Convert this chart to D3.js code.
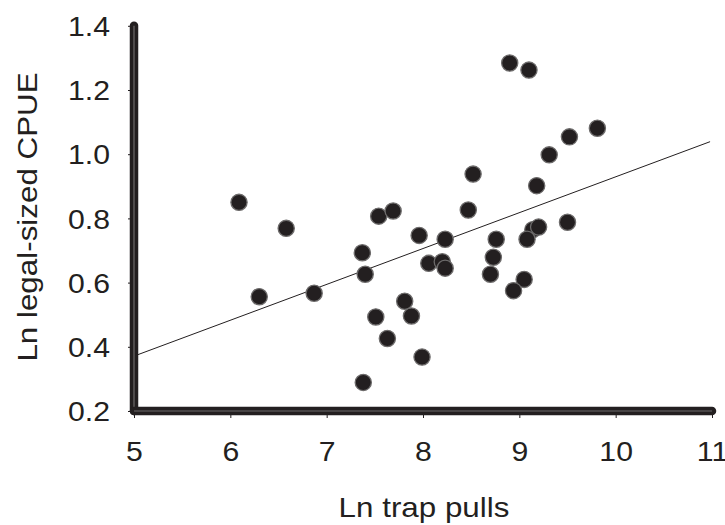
<!DOCTYPE html>
<html>
<head>
<meta charset="utf-8">
<script src="https://cdn.jsdelivr.net/npm/d3@7"></script>
<style>
  body { margin: 0; background: #fff; }
  text { font-family: "Liberation Sans", Arial, sans-serif; fill: #231f20; }
</style>
</head>
<body>
<div id="chart"></div>
<script>
// values
const xTicks = [5, 6, 7, 8, 9, 10, 11];
const yTicks = [0.2, 0.4, 0.6, 0.8, 1.0, 1.2, 1.4];

const trapPulls = [6.09, 6.58, 7.54, 7.69, 7.96, 7.37, 7.40, 6.30, 6.87, 7.81, 7.51, 7.88,
  7.63, 7.99, 7.38, 8.90, 9.10, 9.81, 9.52, 9.31, 8.52, 9.18, 8.47, 9.50, 9.14, 9.20,
  8.23, 8.76, 9.08, 8.06, 8.20, 8.23, 8.73, 8.70, 9.05, 8.94];
const cpue = [0.850, 0.769, 0.807, 0.823, 0.747, 0.693, 0.626, 0.556, 0.567, 0.542, 0.493, 0.496,
  0.426, 0.368, 0.289, 1.284, 1.262, 1.081, 1.054, 0.998, 0.938, 0.902, 0.826, 0.788, 0.765, 0.773,
  0.735, 0.735, 0.735, 0.660, 0.665, 0.645, 0.679, 0.626, 0.610, 0.575];

// fitted line end points
const trendX = [5, 10.98];
const trendY = [0.371, 1.039];

const width = 725;
const height = 525;
const plotLeft = 134, plotRight = 712, plotTop = 25.8, plotBottom = 411;
const ink = '#231f20';
const stretch = 1.12;   // the type in the original is a little wide
const tickFont = 27;
const titleFont = 28;

var svg = d3.select('#chart').append('svg')
  .attr('width', width)
  .attr('height', height);

var x = d3.scaleLinear().domain([5, 11]).range([plotLeft, plotRight]);
var y = d3.scaleLinear().domain([0.2, 1.4]).range([plotBottom, plotTop]);

// trend line
svg.append('line')
  .attr('x1', x(trendX[0])).attr('y1', y(trendY[0]))
  .attr('x2', x(trendX[1])).attr('y2', y(trendY[1]))
  .attr('stroke', ink)
  .attr('stroke-width', 1);

// points
svg.append('g').selectAll('circle')
  .data(trapPulls.map((d, i) => [d, cpue[i]]))
  .join('circle')
  .attr('cx', d => x(d[0]))
  .attr('cy', d => y(d[1]))
  .attr('r', 8.1)
  .attr('fill', ink)
  .attr('stroke', '#6d6b6b')
  .attr('stroke-width', 1.3);

// axes: ticks and labels
var yAxis = svg.append('g')
  .attr('transform', 'translate(' + plotLeft + ',0)')
  .call(d3.axisLeft(y).tickValues(yTicks).tickSize(6)
    .tickFormat(d3.format('.1f')));

var xAxis = svg.append('g')
  .attr('transform', 'translate(0,' + plotBottom + ')')
  .call(d3.axisBottom(x).tickValues(xTicks).tickSize(7)
    .tickFormat(d3.format('d')));

[yAxis, xAxis].forEach(function(a) {
  a.select('.domain').remove();
  a.selectAll('.tick line').attr('stroke', ink).attr('stroke-width', 1);
  a.selectAll('.tick text')
    .style('font-size', tickFont + 'px')
    .style('font-family', '"Liberation Sans", Arial, sans-serif')
    .attr('fill', ink);
});

yAxis.selectAll('.tick text')
  .attr('x', 0)
  .attr('dy', '0.36em')
  .attr('transform', 'translate(-24,0) scale(' + stretch + ',1)');

xAxis.selectAll('.tick text')
  .attr('y', 50)
  .attr('dy', 0)
  .attr('transform', 'scale(' + stretch + ',1)');

// heavy axis lines with a light stripe down the middle
function heavyLine(x1, y1, x2, y2) {
  svg.append('line')
    .attr('x1', x1).attr('y1', y1).attr('x2', x2).attr('y2', y2)
    .attr('stroke', ink)
    .attr('stroke-width', 8.5)
    .attr('stroke-linecap', 'round');
  svg.append('line')
    .attr('x1', x1).attr('y1', y1).attr('x2', x2).attr('y2', y2)
    .attr('stroke', '#6d6b6b')
    .attr('stroke-width', 1.2);
}
heavyLine(plotLeft, plotBottom, plotLeft, plotTop);
heavyLine(plotLeft, plotBottom, plotRight, plotBottom);

// axis titles
svg.append('text')
  .attr('transform', 'translate(424,517) scale(' + stretch + ',1)')
  .attr('text-anchor', 'middle')
  .style('font-size', titleFont + 'px')
  .text('Ln trap pulls');

svg.append('text')
  .attr('transform', 'translate(37,217) rotate(-90) scale(' + stretch + ',1)')
  .attr('text-anchor', 'middle')
  .style('font-size', titleFont + 'px')
  .text('Ln legal-sized CPUE');
</script>
</body>
</html>
